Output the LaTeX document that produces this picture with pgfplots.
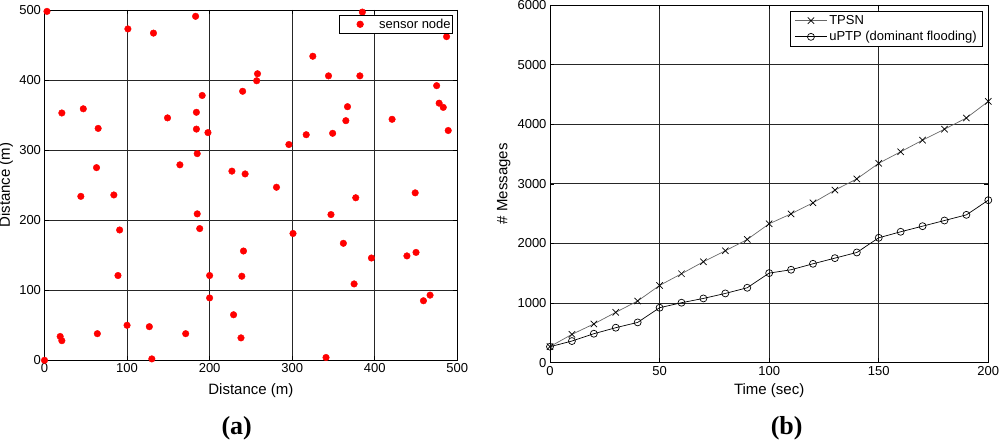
\documentclass[border=0pt]{standalone}
\usepackage{fontspec}
\setmainfont{Liberation Sans}
\newfontfamily\serifb{Liberation Serif}
\usepackage{pgfplots}
\pgfplotsset{compat=1.18}
\pgfplotsset{
  common/.style={
    scale only axis,
    grid=major,
    major grid style={black!85, line width=0.8pt},
    axis line style={black, line width=0.8pt},
    tick style={black, line width=0.6pt},
    /pgf/number format/assume math mode=true,
    /pgf/number format/1000 sep={},
    scaled ticks=false,
    tick label style={font=\fontsize{13}{13}\selectfont},
    label style={font=\fontsize{15}{15}\selectfont},
    legend style={font=\fontsize{13}{13}\selectfont, draw=black, line width=0.6pt},
  }
}
\begin{document}
\begin{tikzpicture}[x=1pt,y=1pt]
\path[use as bounding box] (0,0) rectangle (1000,441);
\begin{axis}[common,
  at={(44.5pt,80.7pt)}, anchor=south west,
  width=412.8pt, height=350.3pt,
  xmin=0, xmax=500, ymin=0, ymax=500,
  xtick={0,100,...,500}, ytick={0,100,...,500},
  clip=false,
  xlabel={Distance (m)}, ylabel={Distance (m)},
  xlabel style={at={(axis description cs:0.5,-0.098)}, anchor=base},
  ylabel style={at={(axis description cs:-0.0836,0.5)}, anchor=base},
  legend style={at={(axis description cs:0.9896,0.9857)}, anchor=north east,
    inner xsep=0pt, inner ysep=1.5pt},
  legend image code/.code={\path[draw=none,fill=none] (0pt,0pt) rectangle (38pt,0.1pt); \draw[#1] plot coordinates {(21pt,0pt)};},
]
\addplot[only marks, mark=*, mark size=3.3pt, color=red] coordinates {
(3,498) (101,473) (132,467) (183,491) (21,353) (47,359) (65,331) (149,346)
(184,354) (191,378) (240,384) (184,330) (198,325) (185,295) (164,279) (63,275)
(227,270) (243,266) (44,234) (84,236) (385,497) (487,462) (325,434) (258,409)
(257,399) (344,406) (382,406) (475,392) (367,362) (478,367) (483,361) (365,342)
(421,344) (317,322) (349,324) (489,328) (296,308) (281,247) (377,232) (449,239)
(185,209) (91,186) (188,188) (241,156) (89,121) (200,121) (239,120) (200,89)
(229,65) (238,32) (19,34) (21,28) (64,38) (100,50) (127,48) (171,38)
(130,2) (0,0) (347,208) (301,181) (362,167) (396,146) (439,149) (450,154)
(375,109) (467,93) (459,85) (341,4)
};
\addlegendentry{sensor node}
\end{axis}
\begin{axis}[common,
  at={(550pt,78.3pt)}, anchor=south west,
  width=438.3pt, height=357.7pt,
  xmin=0, xmax=200, ymin=0, ymax=6000,
  xtick={0,50,...,200}, ytick={0,1000,...,6000},
  clip=false,
  xlabel={Time (sec)}, ylabel={\# Messages},
  xlabel style={at={(axis description cs:0.5,-0.089)}, anchor=base},
  ylabel style={at={(axis description cs:-0.097,0.5)}, anchor=base},
  legend style={at={(axis description cs:0.9879,0.9832)}, anchor=north east,
    inner xsep=4pt, inner ysep=2pt, row sep=1.5pt},
  legend image code/.code={\draw[mark repeat=2,mark phase=2,#1] plot coordinates {(0pt,0pt) (16pt,0pt) (32pt,0pt)};},
  legend cell align=left,
]
\addplot[color=black!60, line width=0.7pt, mark=x, mark size=4.5pt, mark options={black, line width=0.7pt}] coordinates {
(0,270) (10,475) (20,650) (30,845) (40,1035) (50,1296) (60,1492) (70,1693)
(80,1877) (90,2067) (100,2330) (110,2497) (120,2682) (130,2895) (140,3083)
(150,3345) (160,3538) (170,3733) (180,3917) (190,4105) (200,4383)
};
\addlegendentry{TPSN}
\addplot[color=black, line width=0.7pt, mark=o, mark size=3.5pt, mark options={black, line width=0.7pt}] coordinates {
(0,268) (10,363) (20,486) (30,587) (40,676) (50,922) (60,1006) (70,1078)
(80,1162) (90,1257) (100,1503) (110,1559) (120,1659) (130,1754) (140,1849)
(150,2095) (160,2196) (170,2290) (180,2385) (190,2480) (200,2726)
};
\addlegendentry{uPTP (dominant flooding)}
\end{axis}
\node[anchor=base, font=\serifb\bfseries\fontsize{26}{26}\selectfont] at (236.7,6) {(a)};
\node[anchor=base, font=\serifb\bfseries\fontsize{26}{26}\selectfont] at (786.7,6) {(b)};
\end{tikzpicture}
\end{document}
